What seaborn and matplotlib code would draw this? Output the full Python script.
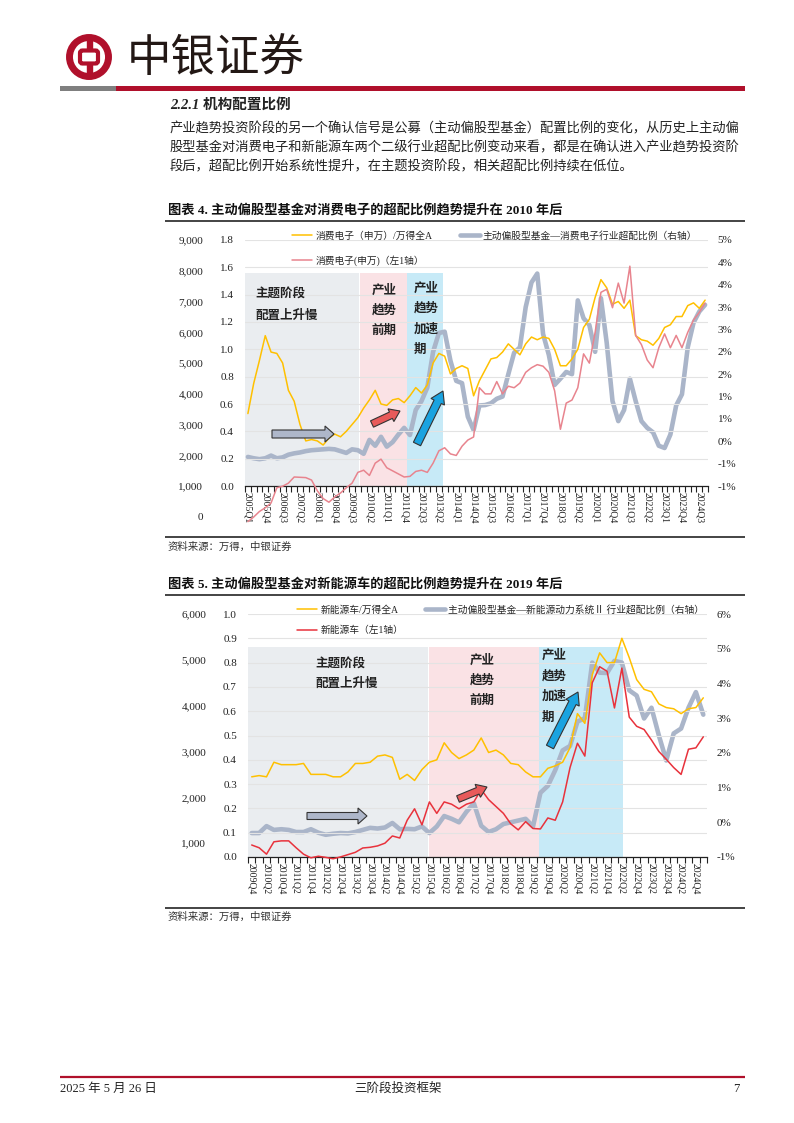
import numpy as np
import pandas as pd
import matplotlib
matplotlib.use('Agg')
import matplotlib.pyplot as plt
import matplotlib.patches as mpatches
from matplotlib.ticker import FormatStrFormatter
import seaborn as sns

# 图表4 消费电子, 2005Q1 - 2024Q4
ce_ratio = [0.53, 0.75, 0.92, 1.10, 0.98, 0.97, 0.90, 0.70, 0.62, 0.45,
            0.33, 0.34, 0.33, 0.30, 0.35, 0.38, 0.36, 0.40, 0.45, 0.50,
            0.57, 0.63, 0.70, 0.60, 0.59, 0.63, 0.64, 0.61, 0.66, 0.72,
            0.68, 0.74, 0.90, 0.97, 0.95, 0.82, 0.86, 0.88, 0.86, 0.66,
            0.77, 0.85, 0.93, 0.94, 0.98, 1.04, 1.00, 0.96, 1.04, 1.09,
            1.07, 1.09, 1.08, 1.00, 0.88, 0.88, 0.93, 1.00, 1.16, 1.22,
            1.38, 1.51, 1.45, 1.33, 1.35, 1.30, 1.36, 1.10, 1.07, 1.06,
            1.03, 1.08, 1.16, 1.18, 1.24, 1.24, 1.32, 1.34, 1.30, 1.36]
ce_overweight = [-0.35, -0.38, -0.40, -0.38, -0.32, -0.38, -0.36, -0.30, -0.27, -0.25,
                 -0.22, -0.20, -0.19, -0.18, -0.17, -0.18, -0.22, -0.26, -0.18, -0.20,
                 -0.28, 0.03, -0.10, 0.10, -0.12, -0.02, 0.15, 0.30, 0.14, 0.70,
                 0.90, 1.20, 2.00, 2.42, 2.45, 1.80, 1.35, 1.30, 0.55, 0.25,
                 0.80, 0.81, 0.85, 0.95, 1.00, 1.50, 1.98, 2.10, 3.00, 3.55,
                 3.75, 2.40, 1.93, 1.26, 1.40, 1.55, 1.50, 3.15, 2.75, 2.60,
                 2.00, 3.20, 2.20, 0.90, 0.45, 0.70, 1.40, 0.90, 0.45, 0.30,
                 0.20, -0.10, -0.15, 0.15, 0.80, 1.05, 2.10, 2.65, 2.90, 3.05]
ce_index = [-150, 0, 180, 300, 455, 950, 1000, 1100, 1300, 1290,
            1280, 1200, 850, 600, 480, 650, 780, 950, 1100, 1450,
            1520, 1350, 1750, 1880, 1600, 1500, 1400, 1300, 1320, 1480,
            1520, 1450, 1750, 2150, 2250, 2050, 2000, 2300, 2500, 2600,
            4200, 4000, 4000, 4400, 4000, 4250, 4200, 4350, 4700, 4850,
            4950, 4900, 4700, 4100, 2850, 3700, 3800, 4200, 5300, 5000,
            6000, 7300, 7400, 6800, 7600, 6950, 8150, 5900, 5600, 5100,
            4850, 5500, 5950, 5500, 5900, 5500, 6000, 6400, 6650, 6950]
ce_stages = [19.4, 27.5, 33.7]

# 图表5 新能源车, 2009Q4 - 2025Q1
nev_ratio = [0.33, 0.335, 0.33, 0.39, 0.38, 0.38, 0.38, 0.385, 0.34, 0.34,
             0.34, 0.33, 0.33, 0.35, 0.385, 0.385, 0.39, 0.415, 0.42, 0.41,
             0.32, 0.34, 0.315, 0.36, 0.39, 0.40, 0.47, 0.43, 0.405, 0.42,
             0.44, 0.49, 0.43, 0.44, 0.42, 0.385, 0.38, 0.35, 0.33, 0.33,
             0.365, 0.375, 0.39, 0.45, 0.59, 0.55, 0.75, 0.84, 0.80, 0.80,
             0.90, 0.82, 0.73, 0.69, 0.68, 0.63, 0.615, 0.61, 0.59, 0.61,
             0.615, 0.655]
nev_overweight = [-0.31, -0.31, -0.11, -0.22, -0.20, -0.22, -0.28, -0.28, -0.20, -0.30,
                  -0.36, -0.33, -0.31, -0.32, -0.28, -0.22, -0.16, -0.18, -0.15, -0.02,
                  -0.20, -0.19, -0.20, -0.12, -0.31, -0.12, 0.18, 0.10, 0.00, 0.30,
                  0.55, -0.10, -0.28, -0.20, -0.05, 0.00, 0.05, 0.10, -0.12, 0.85,
                  1.05, 1.50, 2.07, 2.20, 2.90, 3.00, 4.60, 4.31, 4.30, 4.65,
                  4.60, 3.80, 3.65, 2.99, 3.30, 2.50, 1.78, 2.56, 2.70, 3.30,
                  3.75, 3.10]
nev_index = [960, 900, 760, 1030, 1050, 1050, 900, 760, 680, 715,
             690, 660, 700, 750, 800, 895, 910, 940, 1000, 1157,
             1113, 1500, 1750, 1400, 1900, 1650, 1900, 1850, 1750, 1850,
             1900, 2170, 1950, 1800, 1650, 1420, 1290, 1470, 1320, 1310,
             1550, 1500, 1900, 2650, 3180, 2900, 4500, 4850, 4750, 3950,
             4820, 3750, 3550, 3480, 3250, 3000, 2830, 2650, 2500, 3050,
             3080, 3320]
nev_stages = [23.95, 38.8, 50.15]


def quarters(year, q, n):
    out = []
    for i in range(n):
        k = q - 1 + i
        out.append('%dQ%d' % (year + k // 4, k % 4 + 1))
    return out


ce_q = quarters(2005, 1, len(ce_ratio))
nev_q = quarters(2009, 4, len(nev_ratio))

sns.set_theme(style='white')
plt.rcParams['font.family'] = ['Liberation Serif', 'Noto Sans CJK SC']
plt.rcParams['axes.unicode_minus'] = False

W, H = 794, 1123
fig = plt.figure(figsize=(W / 100, H / 100), dpi=100)

YELLOW = '#FFC000'
GRAY = '#AAB5C9'
SHADES = ['#EAEDF0', '#FAE2E5', '#C7EAF7']
TXT = '#222222'


def rect(x0, x1, y0, y1):
    return [x0 / W, 1 - y1 / H, (x1 - x0) / W, (y1 - y0) / H]


def draw_chart(box, idx_bottom, ratio, overweight, index, qlabels, step,
               rmax, rstep, pct_ticks, pct_labels, idx_max, idx_ticks,
               stages, shade_top, index_color, labels, leg_xy, leg_space, colspace):
    x0, x1, ytop, ybot = box
    ax = fig.add_axes(rect(x0, x1, ytop, ybot))
    axr = ax.twinx()
    axp = fig.add_axes(rect(x0, x1, ytop, idx_bottom))
    axr.set_zorder(1)
    ax.set_zorder(2)
    axp.set_zorder(3)
    ax.patch.set_visible(False)
    axp.patch.set_visible(False)

    n = len(ratio)
    xs = np.arange(n)
    df = pd.DataFrame({'q': xs, 'ratio': ratio, 'ow': overweight, 'idx': index})

    # stage shading
    bounds = [-0.5] + stages
    for i in range(3):
        right = bounds[i + 1] - (0.12 if i == 0 else 0)
        axr.axvspan(bounds[i], right, ymin=0, ymax=shade_top, color=SHADES[i], lw=0, zorder=0)

    sns.lineplot(data=df, x='q', y='ow', ax=axr, color=GRAY, linewidth=3.3, zorder=2)
    sns.lineplot(data=df, x='q', y='ratio', ax=ax, color=YELLOW, linewidth=1.1)
    sns.lineplot(data=df, x='q', y='idx', ax=axp, color=index_color, linewidth=1.1)
    axp.lines[-1].set_clip_on(False)

    for a in (ax, axr, axp):
        a.set_xlim(-0.5, n - 0.5)
        a.set_xlabel('')
        a.set_ylabel('')
        for s in a.spines.values():
            s.set_visible(False)

    ax.spines['bottom'].set_visible(True)
    ax.spines['bottom'].set_color(TXT)
    ax.spines['bottom'].set_linewidth(0.9)
    ax.set_ylim(0, rmax)
    ax.set_yticks(np.arange(0, rmax + 1e-9, rstep))
    ax.yaxis.set_major_formatter(FormatStrFormatter('%.1f'))
    ax.grid(axis='y', color='#E3E3E3', linewidth=0.8)
    ax.grid(axis='x', visible=False)
    ax.tick_params(axis='y', left=False, length=0, pad=8, labelsize=8, labelcolor=TXT)
    ax.set_xticks(xs[::step])
    ax.set_xticklabels(qlabels[::step], rotation=270, fontsize=7, color=TXT)
    ax.set_xticks(np.arange(-0.5, n, 1), minor=True)
    ax.tick_params(axis='x', which='both', bottom=True)
    ax.tick_params(axis='x', which='major', length=0, pad=4)
    ax.tick_params(axis='x', which='minor', length=4, width=0.8, color=TXT, direction='out')

    axr.set_ylim(pct_ticks[0], pct_ticks[-1])
    axr.set_yticks(pct_ticks)
    axr.set_yticklabels(pct_labels)
    axr.tick_params(axis='y', right=False, length=0, pad=7, labelsize=8, labelcolor=TXT)

    axp.set_ylim(0, idx_max)
    axp.set_yticks(idx_ticks)
    axp.set_yticklabels(['{:,}'.format(v) for v in idx_ticks])
    axp.tick_params(axis='y', left=False, length=0, pad=30, labelsize=8, labelcolor=TXT)
    axp.tick_params(axis='x', bottom=False, labelbottom=False)

    handles = [ax.lines[0], axp.lines[0], axr.lines[0]]
    axp.legend(handles, labels, ncol=2, loc='upper left',
               bbox_to_anchor=(leg_xy[0] / W, 1 - leg_xy[1] / H), bbox_transform=fig.transFigure,
               frameon=False, fontsize=7, handlelength=2.1, handletextpad=0.3,
               columnspacing=colspace, labelspacing=leg_space, borderpad=0, borderaxespad=0)


draw_chart((245, 708, 240, 486), 517, ce_ratio, ce_overweight, ce_index, ce_q, 3,
           1.8, 0.2, list(np.arange(-1, 4.51, 0.5)),
           ['-1%', '-1%', '0%', '1%', '1%', '2%', '2%', '3%', '3%', '4%', '4%', '5%'],
           9000, list(range(0, 9001, 1000)), ce_stages, 0.866, '#E8848E',
           ['消费电子（申万）/万得全A', '消费电子(申万)（左1轴）', '主动偏股型基金—消费电子行业超配比例（右轴）'],
           (292, 231), 1.45, 2.8)

draw_chart((248, 707, 614, 857), 889, nev_ratio, nev_overweight, nev_index, nev_q, 2,
           1.0, 0.1, list(range(-1, 7)),
           ['-1%', '0%', '1%', '2%', '3%', '4%', '5%', '6%'],
           6000, list(range(1000, 6001, 1000)), nev_stages, 0.865, '#E8323C',
           ['新能源车/万得全A', '新能源车（左1轴）', '主动偏股型基金—新能源动力系统Ⅱ 行业超配比例（右轴）'],
           (297, 605), 1.1, 2.2)

# page overlay: header, text, stage labels, arrows
ov = fig.add_axes([0, 0, 1, 1], zorder=10)
ov.set_xlim(0, W)
ov.set_ylim(H, 0)
ov.axis('off')

RED = '#B0102B'
ov.add_patch(mpatches.Circle((89, 57), 19.5, fill=False, ec=RED, lw=5))
ov.add_patch(mpatches.FancyBboxPatch((80, 50.5), 18, 13, boxstyle='round,pad=0,rounding_size=2.5',
                                     fill=False, ec=RED, lw=3))
ov.add_patch(mpatches.Rectangle((86.5, 37), 5, 13, color=RED))
ov.add_patch(mpatches.Rectangle((86.5, 64), 5, 14, color=RED))
ov.text(127, 58, '中银证券', fontsize=32, va='center', ha='left', color='#231815',
        family=['Noto Sans CJK SC'])
ov.add_patch(mpatches.Rectangle((60, 86), 56, 5, color='#7F7F7F', lw=0))
ov.add_patch(mpatches.Rectangle((116, 86), 629, 5, color=RED, lw=0))

ov.text(170, 105, '2.2.1 机构配置比例', fontsize=10.5, weight='bold', style='italic', va='center', color=TXT)
body = ['产业趋势投资阶段的另一个确认信号是公募（主动偏股型基金）配置比例的变化，从历史上主动偏',
        '股型基金对消费电子和新能源车两个二级行业超配比例变动来看，都是在确认进入产业趋势投资阶',
        '段后，超配比例开始系统性提升，在主题投资阶段，相关超配比例持续在低位。']
for i, line in enumerate(body):
    ov.text(170, 129 + 19 * i, line, fontsize=9.55, va='center', color=TXT)

# chart titles and rules
ov.text(168, 210, '图表 4. 主动偏股型基金对消费电子的超配比例趋势提升在 2010 年后',
        fontsize=9.5, weight='bold', va='center', color='#111111')
ov.text(168, 584, '图表 5. 主动偏股型基金对新能源车的超配比例趋势提升在 2019 年后',
        fontsize=9.5, weight='bold', va='center', color='#111111')
for y in (221, 537, 595, 908):
    ov.plot([165, 745], [y, y], color='#111111', lw=1.1, solid_capstyle='butt')
ov.text(168, 547, '资料来源：万得，中银证券', fontsize=7.5, style='italic', va='center', color='#333333')
ov.text(168, 917, '资料来源：万得，中银证券', fontsize=7.5, style='italic', va='center', color='#333333')

# stage labels
bold = dict(fontsize=9, weight='bold', color=TXT, family=['Noto Sans CJK SC'], va='center')
ov.text(255, 293, '主题阶段', **bold)
ov.text(255, 315, '配置上升慢', **bold)
for i, s in enumerate(['产业', '趋势', '前期']):
    ov.text(384, 290 + 20 * i, s, ha='center', **bold)
for i, s in enumerate(['产业', '趋势', '加速', '期']):
    ov.text(414, 288 + 20.5 * i, s, ha='left', **bold)
ov.text(315, 663, '主题阶段', **bold)
ov.text(315, 683, '配置上升慢', **bold)
for i, s in enumerate(['产业', '趋势', '前期']):
    ov.text(470, 660 + 20 * i, s, ha='left', **bold)
for i, s in enumerate(['产业', '趋势', '加速', '期']):
    ov.text(542, 655 + 20.7 * i, s, ha='left', **bold)

# block arrows
def block_arrow(x, y, x2, y2, fc, w=8, hw=16, hl=9):
    ov.add_patch(mpatches.FancyArrow(x, y, x2 - x, y2 - y, width=w, head_width=hw, head_length=hl,
                                     length_includes_head=True, fc=fc, ec='#333333', lw=0.8))

block_arrow(272, 434, 334, 434, '#AEB7CA')
block_arrow(372, 424, 400, 411, '#E85A5A', w=7, hw=14, hl=10)
block_arrow(417, 444, 443, 391, '#1AA3E0', w=8, hw=15, hl=12)
block_arrow(307, 816, 367, 816, '#AEB7CA', w=7, hw=16, hl=9)
block_arrow(458, 799, 487, 787, '#E85A5A', w=7, hw=14, hl=10)
block_arrow(550, 747, 578, 692, '#1AA3E0', w=8, hw=15, hl=12)

# footer
ov.plot([60, 745], [1077, 1077], color=RED, lw=1.6, solid_capstyle='butt')
ov.text(60, 1089, '2025 年 5 月 26 日', fontsize=9, va='center', color=TXT)
ov.text(398, 1089, '三阶段投资框架', fontsize=9, va='center', ha='center', color=TXT)
ov.text(740, 1089, '7', fontsize=9, va='center', ha='right', color=TXT)

fig.savefig('out.png', dpi=100)
